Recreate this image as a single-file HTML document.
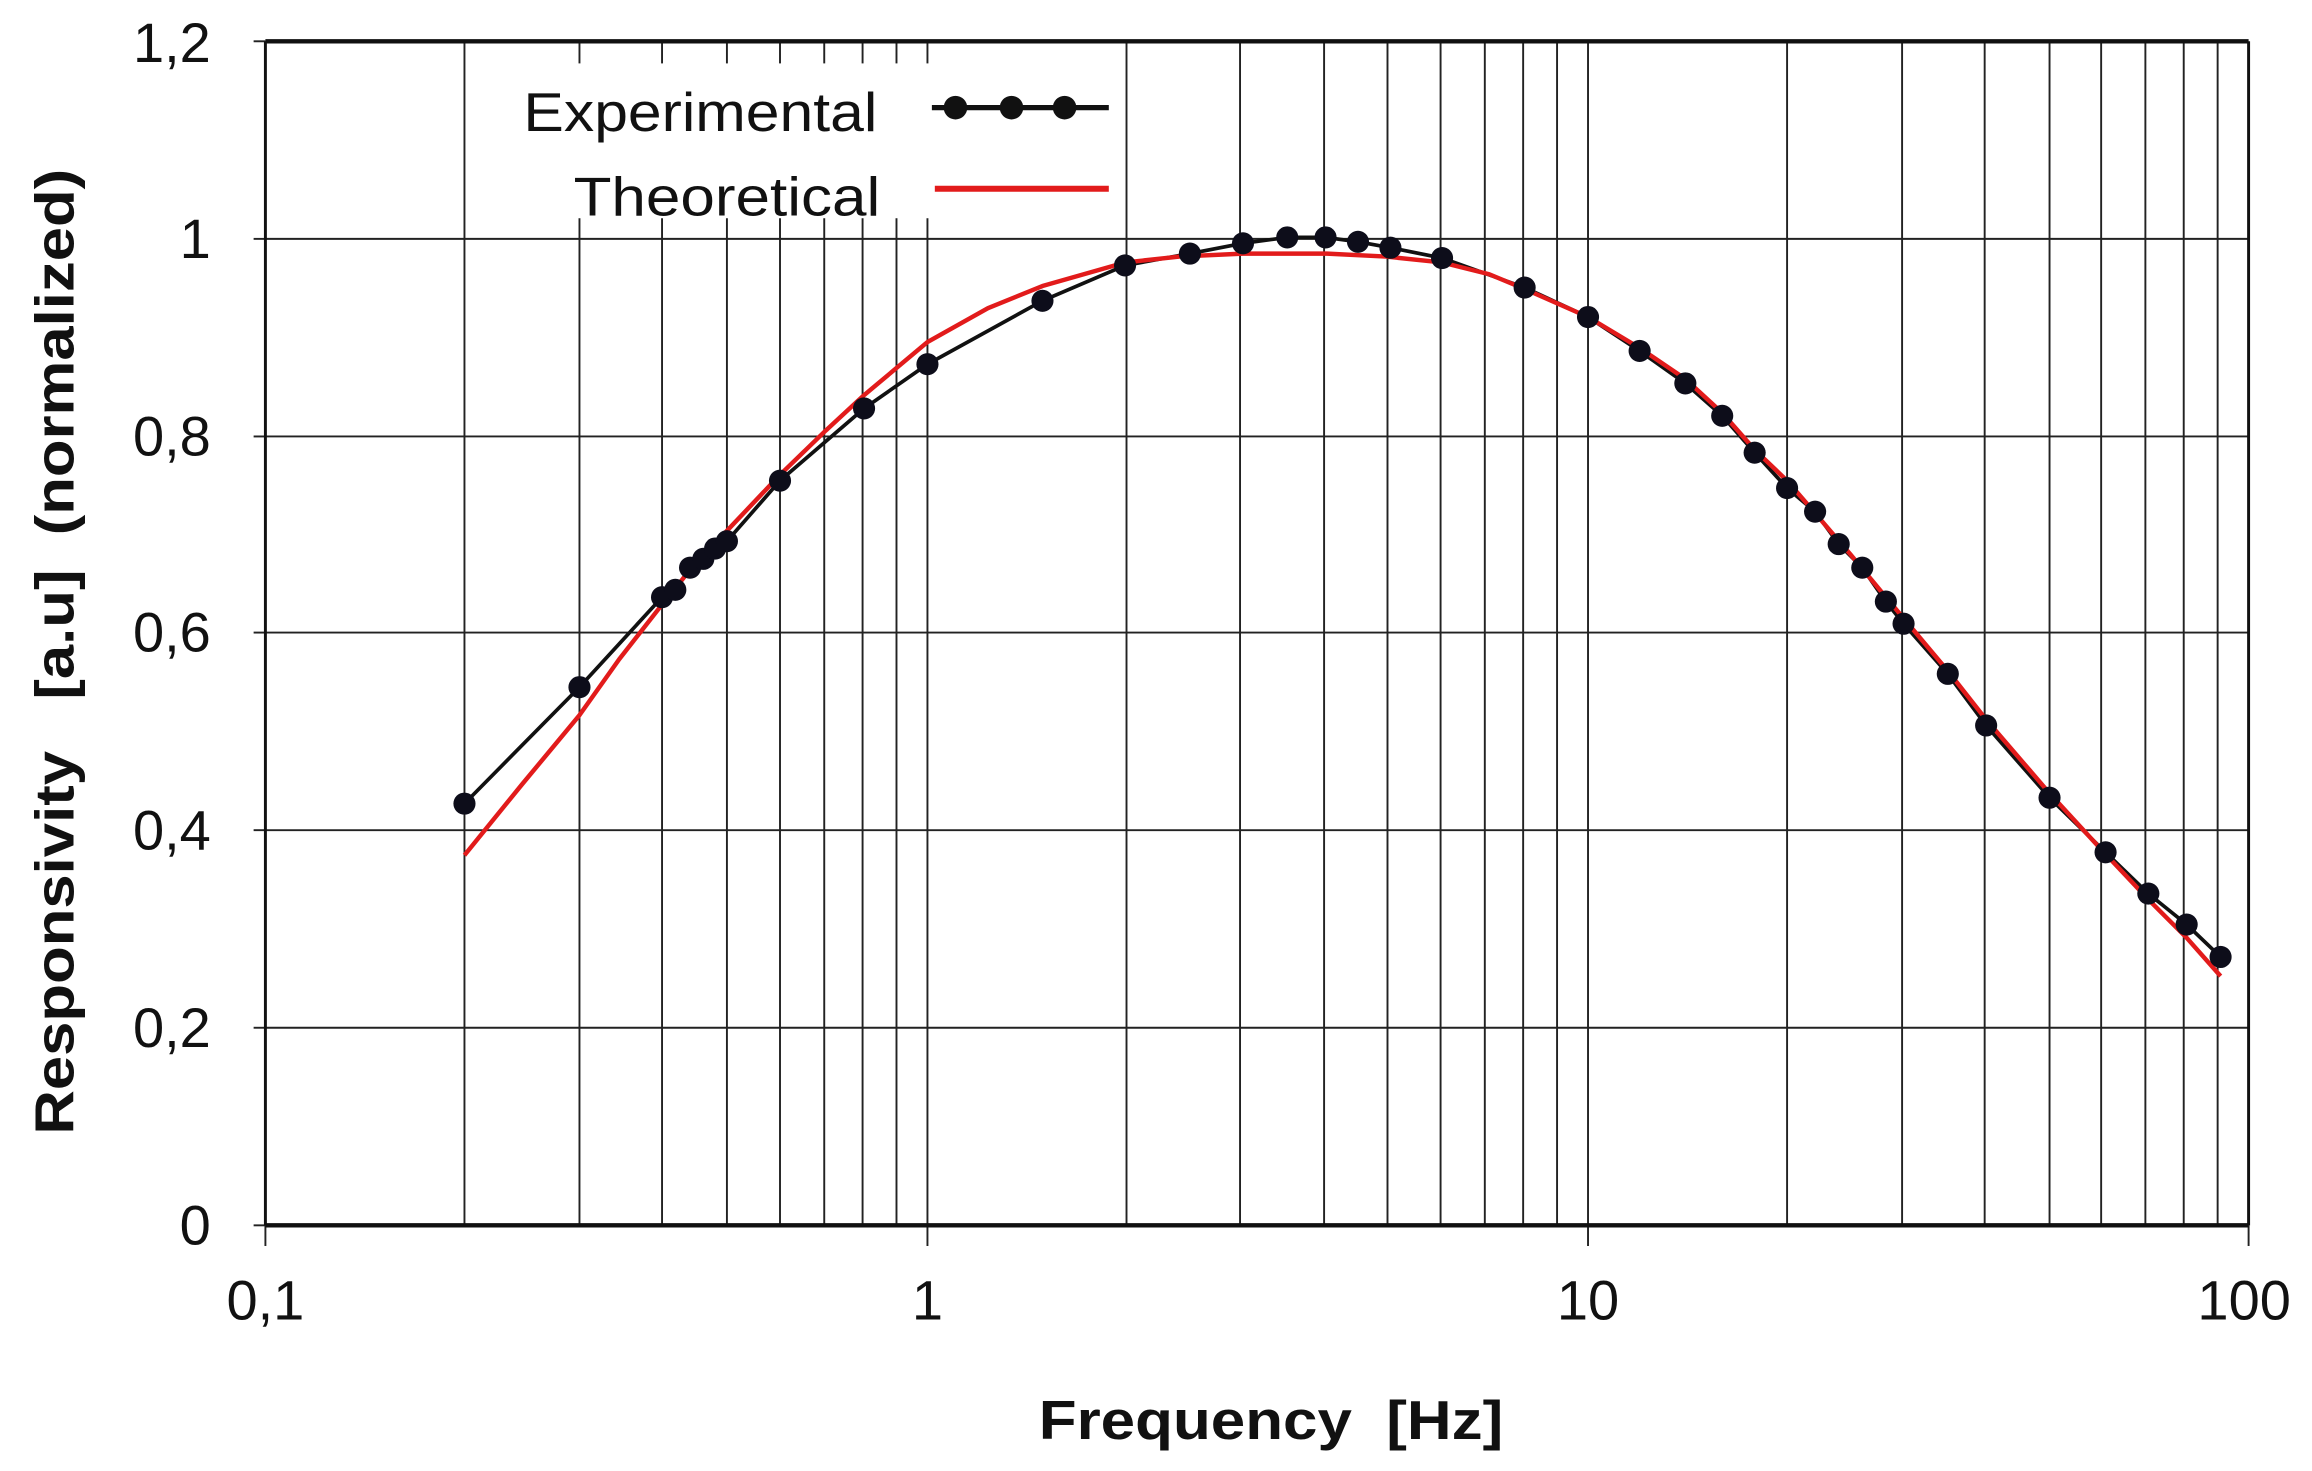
<!DOCTYPE html>
<html><head><meta charset="utf-8"><style>
html,body{margin:0;padding:0;background:#fff;}
svg{display:block;}
text{font-family:"Liberation Sans",Arial,sans-serif;fill:#111;}
</style></head><body>
<svg width="2312" height="1471" viewBox="0 0 1568 997.6" preserveAspectRatio="none" xmlns="http://www.w3.org/2000/svg">
<g stroke="#222" stroke-width="1.3">
<line x1="315" y1="28" x2="315" y2="831"/><line x1="393" y1="28" x2="393" y2="831"/><line x1="449" y1="28" x2="449" y2="831"/><line x1="493" y1="28" x2="493" y2="831"/><line x1="529" y1="28" x2="529" y2="831"/><line x1="559" y1="28" x2="559" y2="831"/><line x1="585" y1="28" x2="585" y2="831"/><line x1="608" y1="28" x2="608" y2="831"/><line x1="629" y1="28" x2="629" y2="845"/>
<line x1="764" y1="28" x2="764" y2="831"/><line x1="841" y1="28" x2="841" y2="831"/><line x1="898" y1="28" x2="898" y2="831"/><line x1="941" y1="28" x2="941" y2="831"/><line x1="977" y1="28" x2="977" y2="831"/><line x1="1007" y1="28" x2="1007" y2="831"/><line x1="1033" y1="28" x2="1033" y2="831"/><line x1="1056" y1="28" x2="1056" y2="831"/><line x1="1077" y1="28" x2="1077" y2="845"/>
<line x1="1212" y1="28" x2="1212" y2="831"/><line x1="1290" y1="28" x2="1290" y2="831"/><line x1="1346" y1="28" x2="1346" y2="831"/><line x1="1390" y1="28" x2="1390" y2="831"/><line x1="1425" y1="28" x2="1425" y2="831"/><line x1="1455" y1="28" x2="1455" y2="831"/><line x1="1481" y1="28" x2="1481" y2="831"/><line x1="1504" y1="28" x2="1504" y2="831"/>
<line x1="180" y1="697" x2="1525" y2="697"/><line x1="180" y1="563" x2="1525" y2="563"/><line x1="180" y1="429" x2="1525" y2="429"/><line x1="180" y1="296" x2="1525" y2="296"/><line x1="180" y1="162" x2="1525" y2="162"/>
<line x1="172" y1="28" x2="180" y2="28"/><line x1="172" y1="162" x2="180" y2="162"/><line x1="172" y1="296" x2="180" y2="296"/><line x1="172" y1="429" x2="180" y2="429"/><line x1="172" y1="563" x2="180" y2="563"/><line x1="172" y1="697" x2="180" y2="697"/><line x1="172" y1="831" x2="180" y2="831"/>
<line x1="180" y1="831" x2="180" y2="845"/><line x1="1525" y1="831" x2="1525" y2="845"/>
</g>
<line x1="180" y1="28" x2="180" y2="831" stroke="#111" stroke-width="2"/>
<line x1="1525" y1="28" x2="1525" y2="831" stroke="#111" stroke-width="2"/>
<line x1="180" y1="28" x2="1525" y2="28" stroke="#111" stroke-width="3"/>
<line x1="180" y1="831" x2="1525" y2="831" stroke="#111" stroke-width="3"/>
<rect x="325" y="43" width="432" height="105" fill="#fff"/>
<text x="595" y="89" font-size="37" text-anchor="end" textLength="240" lengthAdjust="spacingAndGlyphs">Experimental</text>
<text x="597" y="146" font-size="37" text-anchor="end" textLength="208" lengthAdjust="spacingAndGlyphs">Theoretical</text>
<line x1="632" y1="73" x2="752" y2="73" stroke="#111" stroke-width="3.5"/>
<circle cx="648" cy="73" r="8" fill="#111"/><circle cx="686" cy="73" r="8" fill="#111"/><circle cx="722" cy="73" r="8" fill="#111"/>
<line x1="634" y1="128" x2="752" y2="128" stroke="#e21b1b" stroke-width="4"/>
<polyline fill="none" stroke="#111" stroke-width="2.5" points="315,545 393,466 449,405 458,400 468,385 477,379 485,372 493,367 529,326 586,277 629,247 707,204 763,180 807,172 843,165 873,161 899,161 921,164 943,168 978,175 1034,195 1077,215 1112,238 1143,260 1168,282 1190,307 1212,331 1231,347 1247,369 1263,385 1279,408 1291,423 1321,457 1347,492 1390,541 1428,578 1457,606 1483,627 1506,649"/>
<polyline fill="none" stroke="#e21b1b" stroke-width="3" stroke-linejoin="round" points="315,580 354,532 393,485 420,447 449,410 470,384 493,360 529,322 560,292 586,268 629,232 670,209 707,194 763,178 800,174 843,172 900,172 940,174 978,178 1010,186 1034,196 1077,215 1112,236 1143,257 1168,280 1190,305 1212,326 1231,348 1255,376 1279,405 1300,430 1321,455 1347,488 1390,538 1425,576 1457,610 1483,636 1506,662"/>
<g fill="#0d0d1a">
<circle cx="315" cy="545" r="7.5"/><circle cx="393" cy="466" r="7.5"/><circle cx="449" cy="405" r="7.5"/><circle cx="458" cy="400" r="7.5"/><circle cx="468" cy="385" r="7.5"/><circle cx="477" cy="379" r="7.5"/><circle cx="485" cy="372" r="7.5"/><circle cx="493" cy="367" r="7.5"/><circle cx="529" cy="326" r="7.5"/><circle cx="586" cy="277" r="7.5"/><circle cx="629" cy="247" r="7.5"/><circle cx="707" cy="204" r="7.5"/><circle cx="763" cy="180" r="7.5"/><circle cx="807" cy="172" r="7.5"/><circle cx="843" cy="165" r="7.5"/><circle cx="873" cy="161" r="7.5"/><circle cx="899" cy="161" r="7.5"/><circle cx="921" cy="164" r="7.5"/><circle cx="943" cy="168" r="7.5"/><circle cx="978" cy="175" r="7.5"/><circle cx="1034" cy="195" r="7.5"/><circle cx="1077" cy="215" r="7.5"/><circle cx="1112" cy="238" r="7.5"/><circle cx="1143" cy="260" r="7.5"/><circle cx="1168" cy="282" r="7.5"/><circle cx="1190" cy="307" r="7.5"/><circle cx="1212" cy="331" r="7.5"/><circle cx="1231" cy="347" r="7.5"/><circle cx="1247" cy="369" r="7.5"/><circle cx="1263" cy="385" r="7.5"/><circle cx="1279" cy="408" r="7.5"/><circle cx="1291" cy="423" r="7.5"/><circle cx="1321" cy="457" r="7.5"/><circle cx="1347" cy="492" r="7.5"/><circle cx="1390" cy="541" r="7.5"/><circle cx="1428" cy="578" r="7.5"/><circle cx="1457" cy="606" r="7.5"/><circle cx="1483" cy="627" r="7.5"/><circle cx="1506" cy="649" r="7.5"/>
</g>
<g font-size="38" text-anchor="end">
<text x="143" y="42">1,2</text><text x="143" y="175">1</text><text x="143" y="309">0,8</text><text x="143" y="442">0,6</text><text x="143" y="576">0,4</text><text x="143" y="710">0,2</text><text x="143" y="844">0</text>
</g>
<g font-size="38" text-anchor="middle">
<text x="180" y="895">0,1</text><text x="629" y="895">1</text><text x="1077" y="895">10</text><text x="1522" y="895">100</text>
</g>
<text x="862" y="976" font-size="37" font-weight="bold" text-anchor="middle" textLength="315" lengthAdjust="spacingAndGlyphs" xml:space="preserve">Frequency  [Hz]</text>
<text transform="translate(50,442) rotate(-90)" font-size="37" font-weight="bold" text-anchor="middle" textLength="655" lengthAdjust="spacingAndGlyphs" xml:space="preserve">Responsivity   [a.u]  (normalized)</text>
</svg>
</body></html>
